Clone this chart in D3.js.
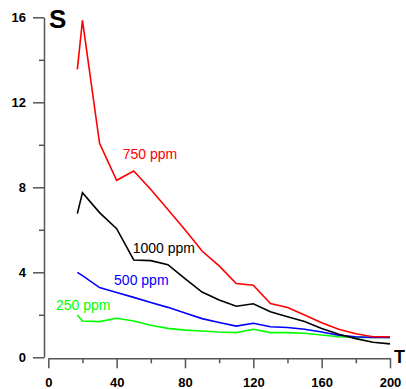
<!DOCTYPE html>
<html lang="en">
  <head>
    <meta charset="UTF-8" />
    <title>S vs T</title>
    <style>
      body {
        margin: 0;
        background: #fff;
        font-family: "Liberation Sans", Arial, sans-serif;
      }
      svg {
        display: block;
      }
      .tick text {
        font-size: 13px;
        font-weight: bold;
        fill: #000;
      }
      .axis path,
      .axis line {
        stroke: #555;
        stroke-width: 1.5px;
      }
    </style>
  </head>
  <body>
    <svg id="chart"></svg>
    <script src="https://d3js.org/d3.v7.min.js"></script>
    <script>
      const width = 406;
      const height = 389;

      // data
      const tValues = [17, 20, 30, 40, 50, 60, 70, 80, 90, 100, 110, 120, 130, 140, 150, 160, 170, 180, 190, 200];
      const s250 = [1.99, 1.71, 1.68, 1.84, 1.71, 1.51, 1.36, 1.28, 1.24, 1.19, 1.16, 1.32, 1.16, 1.16, 1.13, 1.05, 0.97, 0.93, 0.93, 0.93];
      const s500 = [4.0, 3.84, 3.28, 3.05, 2.82, 2.58, 2.35, 2.08, 1.82, 1.64, 1.47, 1.6, 1.44, 1.4, 1.32, 1.19, 1.04, 0.97, 0.93, 0.93];
      const s1000 = [6.76, 7.75, 6.81, 6.05, 4.58, 4.55, 4.36, 3.7, 3.07, 2.7, 2.4, 2.52, 2.14, 1.91, 1.68, 1.36, 1.08, 0.88, 0.71, 0.63];
      const s750 = [13.55, 15.86, 10.07, 8.33, 8.77, 7.9, 6.96, 6.0, 5.0, 4.3, 3.47, 3.39, 2.53, 2.34, 1.99, 1.63, 1.32, 1.11, 0.97, 0.97];
      const seriesNames = ["250 ppm", "500 ppm", "1000 ppm", "750 ppm"];
      const seriesColors = ["#00ff00", "#0000ff", "#000000", "#ff0000"];
      const labelT = [4.5, 38.5, 49.4, 43.6];
      const labelS = [2.21, 3.39, 4.89, 9.32];
      const xTicks = [0, 40, 80, 120, 160, 200];
      const xMinor = [20, 60, 100, 140, 180];
      const yTicks = [0, 4, 8, 12, 16];
      const yMinor = [2, 6, 10, 14];

      const allSeries = [s250, s500, s1000, s750];

      const svg = d3
        .select("#chart")
        .attr("width", width)
        .attr("height", height);

      const x = d3.scaleLinear().domain([0, 200]).range([48.3, 390]);
      const y = d3.scaleLinear().domain([0, 16]).range([357.3, 17.3]);

      // y axis
      svg
        .append("g")
        .attr("class", "axis")
        .attr("transform", "translate(44,0)")
        .call(d3.axisLeft(y).tickValues(yTicks).tickSize(11).tickSizeOuter(0).tickPadding(7));
      svg
        .append("g")
        .attr("class", "axis")
        .attr("transform", "translate(44,0)")
        .call(d3.axisLeft(y).tickValues(yMinor).tickSize(5).tickFormat(""))
        .select(".domain")
        .remove();

      // x axis
      svg
        .append("g")
        .attr("class", "axis")
        .attr("transform", "translate(0,358.3)")
        .call(d3.axisBottom(x).tickValues(xTicks).tickSize(10).tickSizeOuter(0).tickPadding(9));
      svg
        .append("g")
        .attr("class", "axis")
        .attr("transform", "translate(0,358.3)")
        .call(d3.axisBottom(x).tickValues(xMinor).tickSize(5).tickFormat(""))
        .select(".domain")
        .remove();

      svg.selectAll(".axis .tick text").attr("font-family", "'Liberation Sans', Arial, sans-serif");

      // axis titles
      svg
        .append("text")
        .attr("x", 49)
        .attr("y", 28)
        .attr("font-size", 26)
        .attr("font-weight", "bold")
        .text("S");
      svg
        .append("text")
        .attr("x", 394)
        .attr("y", 363)
        .attr("font-size", 18)
        .attr("font-weight", "bold")
        .text("T");

      const line = d3
        .line()
        .x((d, i) => x(tValues[i]))
        .y((d) => y(d));

      svg
        .selectAll("path.series")
        .data(allSeries)
        .join("path")
        .attr("class", "series")
        .attr("fill", "none")
        .attr("stroke", (d, i) => seriesColors[i])
        .attr("stroke-width", 1.6)
        .attr("stroke-linejoin", "miter")
        .attr("d", line);

      svg
        .selectAll("text.label")
        .data(seriesNames)
        .join("text")
        .attr("class", "label")
        .attr("x", (d, i) => x(labelT[i]))
        .attr("y", (d, i) => y(labelS[i]))
        .attr("font-size", 14)
        .attr("fill", (d, i) => seriesColors[i])
        .text((d) => d);
    </script>
  </body>
</html>
